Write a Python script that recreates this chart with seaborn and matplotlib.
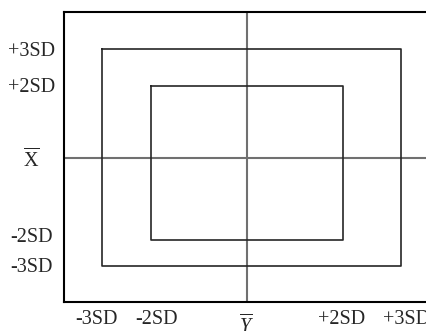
import numpy as np
import pandas as pd
import matplotlib
matplotlib.use("Agg")
import matplotlib.pyplot as plt
import seaborn as sns

# positions of the SD bands (pixel-ish units from the mean)
x_band = [-145, -96, 0, 96, 154]
y_band = [109, 72, 0, -82, -108]

# tick labels and where they sit
x_labels = ["-3SD", "-2SD", r"$\overline{Y}$", "+2SD", "+3SD"]
x_label_pos = [-150, -90, 0, 95, 160]
y_labels = ["+3SD", "+2SD", r"$\overline{\mathrm{X}}$", "-2SD", "-3SD"]
y_label_pos = [109, 73, 0, -77, -107]

x_lim = (-182.5, 179.5)
y_lim = (-144.5, 145.5)


def box(lo_x, hi_x, lo_y, hi_y):
    """closed rectangle as a small frame of corner points"""
    return pd.DataFrame({"x": [lo_x, hi_x, hi_x, lo_x, lo_x],
                         "y": [hi_y, hi_y, lo_y, lo_y, hi_y]})


sns.set_style("white")
plt.rcParams["font.family"] = ["Liberation Serif", "DejaVu Serif"]
plt.rcParams["mathtext.fontset"] = "custom"
plt.rcParams["mathtext.rm"] = "Liberation Serif"
plt.rcParams["mathtext.it"] = "Liberation Serif:italic"

fig = plt.figure(figsize=(4.26, 3.31), dpi=100)
ax = fig.add_axes([64 / 426, 29 / 331, (426 - 64) / 426, 290 / 331])

outer = box(x_band[0], x_band[4], y_band[4], y_band[0])
inner = box(x_band[1], x_band[3], y_band[3], y_band[1])
for frame in (outer, inner):
    sns.lineplot(data=frame, x="x", y="y", sort=False, estimator=None,
                 color="#262626", linewidth=1.2, ax=ax)

ax.axhline(0, color="#707070", linewidth=1.5, zorder=1)
ax.axvline(0, color="#707070", linewidth=1.5, zorder=1)

ax.set_xlim(x_lim)
ax.set_ylim(y_lim)
ax.set_xticks(x_label_pos)
ax.set_xticklabels(x_labels, fontsize=14.5)
ax.set_yticks(y_label_pos)
ax.set_yticklabels(y_labels, fontsize=14.5, ha="center")
ax.tick_params(axis="x", length=0, pad=5.5)
ax.tick_params(axis="y", length=0, pad=23.5)
# the Y-bar sits a little lower than the other labels
ax.xaxis.get_major_ticks()[2].set_pad(9)
ax.set_xlabel("")
ax.set_ylabel("")

for side in ("left", "top", "bottom"):
    ax.spines[side].set_color("black")
    ax.spines[side].set_linewidth(1.5)
ax.spines["right"].set_visible(False)

fig.savefig("out.png", dpi=100)
